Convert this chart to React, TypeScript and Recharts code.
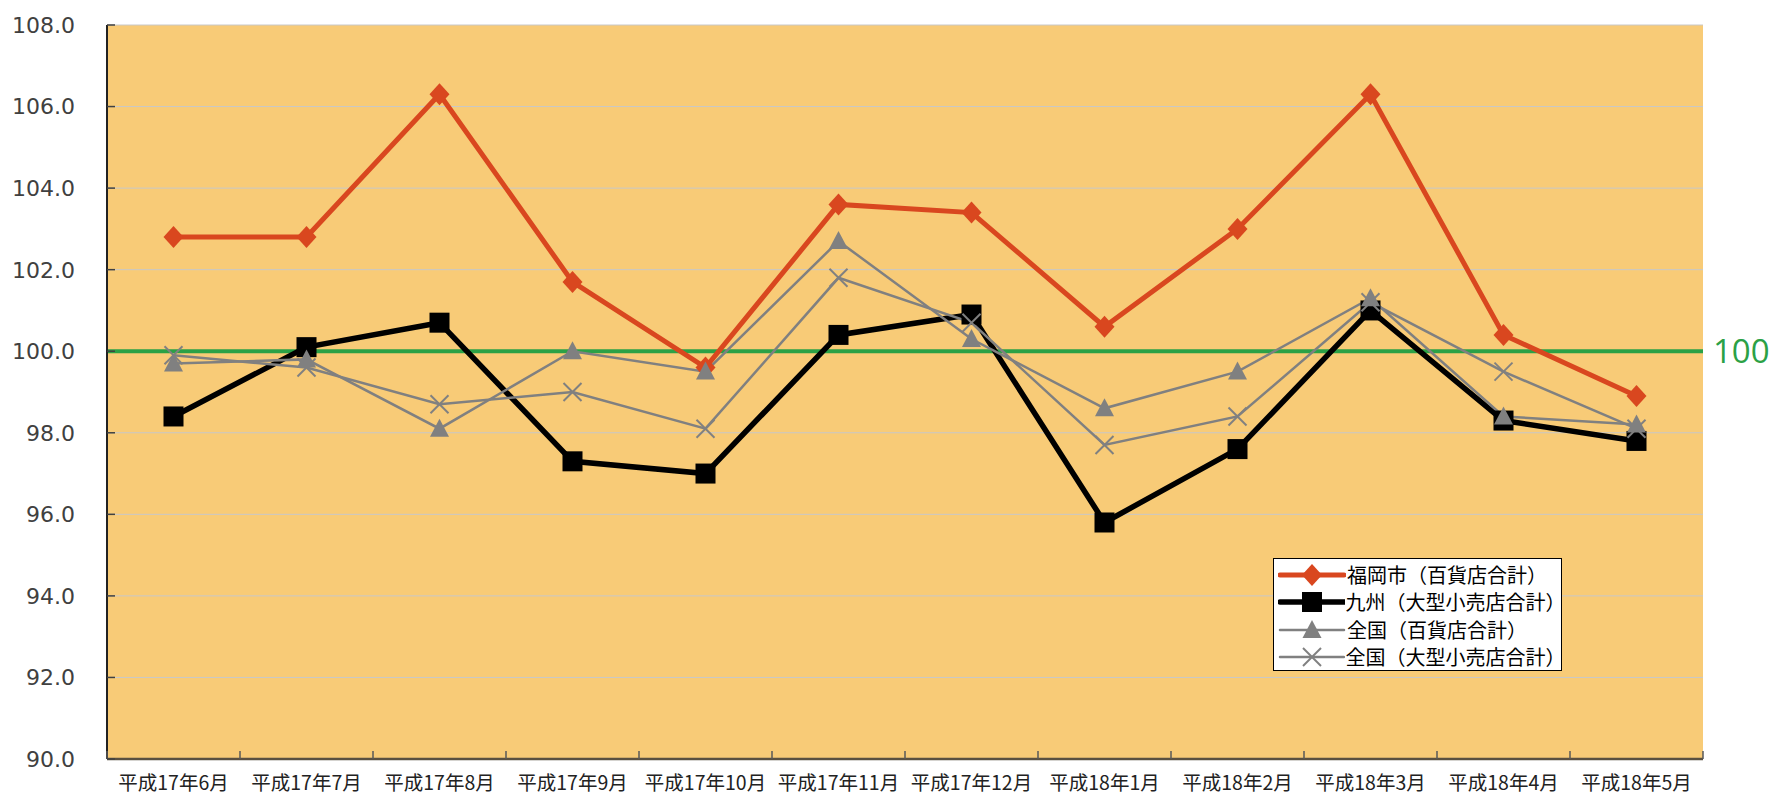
import React from 'react';
import { LineChart, Line, XAxis, YAxis, CartesianGrid, ReferenceLine } from 'recharts';

const categories = ['平成17年6月','平成17年7月','平成17年8月','平成17年9月','平成17年10月','平成17年11月','平成17年12月','平成18年1月','平成18年2月','平成18年3月','平成18年4月','平成18年5月'];
const fukuokaDept = [102.8,102.8,106.3,101.7,99.6,103.6,103.4,100.6,103.0,106.3,100.4,98.9];
const kyushuLarge = [98.4,100.1,100.7,97.3,97.0,100.4,100.9,95.8,97.6,101.0,98.3,97.8];
const nationalDept = [99.7,99.8,98.1,100.0,99.5,102.7,100.3,98.6,99.5,101.3,98.4,98.2];
const nationalLarge = [99.9,99.6,98.7,99.0,98.1,101.8,100.7,97.7,98.4,101.2,99.5,98.1];
const yTicks = [90,92,94,96,98,100,102,104,106,108];
const seriesNames = ['福岡市（百貨店合計）','九州（大型小売店合計）','全国（百貨店合計）','全国（大型小売店合計）'];

const data = categories.map((c, i) => ({
  name: c,
  s0: fukuokaDept[i],
  s1: kyushuLarge[i],
  s2: nationalDept[i],
  s3: nationalLarge[i],
}));

const RED = '#D9471F';
const GRAY = '#808080';
const GREEN = '#2BA146';

type Shape = 'diamond' | 'square' | 'triangle' | 'cross';

const marker = (shape: Shape, cx: number, cy: number, color: string, key?: string) => {
  if (shape === 'diamond') {
    return <path key={key} d={`M${cx},${cy - 11} L${cx + 10},${cy} L${cx},${cy + 11} L${cx - 10},${cy} Z`} fill={color} />;
  }
  if (shape === 'square') {
    return <rect key={key} x={cx - 10} y={cy - 10} width={20} height={20} fill={color} />;
  }
  if (shape === 'triangle') {
    return <path key={key} d={`M${cx},${cy - 10} L${cx + 9.5},${cy + 8} L${cx - 9.5},${cy + 8} Z`} fill={color} />;
  }
  return (
    <g key={key}>
      <line x1={cx - 9} y1={cy - 9} x2={cx + 9} y2={cy + 9} stroke={color} strokeWidth={2} />
      <line x1={cx - 9} y1={cy + 9} x2={cx + 9} y2={cy - 9} stroke={color} strokeWidth={2} />
    </g>
  );
};

const seriesStyle: { key: string; color: string; width: number; shape: Shape }[] = [
  { key: 's0', color: RED, width: 5, shape: 'diamond' },
  { key: 's1', color: '#000000', width: 5.5, shape: 'square' },
  { key: 's2', color: GRAY, width: 2.5, shape: 'triangle' },
  { key: 's3', color: GRAY, width: 2.5, shape: 'cross' },
];

const makeDot = (shape: Shape, color: string) => (props: any) => {
  const { cx, cy, index } = props;
  if (cx == null || cy == null) return <g key={`d${index}`} />;
  return marker(shape, cx, cy, color, `d${index}`);
};

const TICK_MARGIN = 14;

const XTick = (props: any) => {
  const { x, y, payload, width, index } = props;
  const band = width / categories.length;
  const axisY = y - TICK_MARGIN;
  return (
    <g>
      <line x1={x - band / 2} x2={x - band / 2} y1={axisY} y2={axisY - 8} stroke="#595959" strokeWidth={1.5} />
      {index === categories.length - 1 && (
        <line x1={x + band / 2} x2={x + band / 2} y1={axisY} y2={axisY - 8} stroke="#595959" strokeWidth={1.5} />
      )}
      <text x={x} y={y} dy="0.85em" textAnchor="middle" fontSize={19.5} fill="#222" fontFamily="'Noto Sans CJK JP', sans-serif">
        {payload.value}
      </text>
    </g>
  );
};

const YTick = (props: any) => {
  const { x, y, payload } = props;
  const axisX = x + 32;
  return (
    <g>
      <line x1={axisX} x2={axisX + 8} y1={y} y2={y} stroke="#404040" strokeWidth={1.5} />
      <text x={x} y={y} dy="0.36em" textAnchor="end" fontSize={22} fill="#404040" fontFamily="'DejaVu Sans', sans-serif">
        {Number(payload.value).toFixed(1)}
      </text>
    </g>
  );
};

const LegendBox = () => (
  <div style={{ position: 'absolute', left: 1273, top: 558, background: '#fff', border: '1.5px solid #000', width: 289, height: 113, boxSizing: 'border-box', padding: '2px 0 0 4px', fontFamily: "'Noto Sans CJK JP', sans-serif" }}>
    {seriesStyle.map((s, i) => (
      <div key={s.key} style={{ display: 'flex', alignItems: 'center', height: 27.5 }}>
        <svg width={68} height={26} style={{ display: 'block' }}>
          <line x1={2} x2={66} y1={13} y2={13} stroke={s.color} strokeWidth={s.width} strokeLinecap="round" />
          {marker(s.shape, 34, 13, s.color)}
        </svg>
        <span style={{ fontSize: 20, color: '#000', lineHeight: '26px', marginLeft: 1 }}>{seriesNames[i]}</span>
      </div>
    ))}
  </div>
);

export default function App() {
  return (
    <div style={{ position: 'absolute', left: 0, top: 0, width: 1773, height: 795, background: '#fff' }}>
      <LineChart width={1773} height={795} data={data} margin={{ top: 25, right: 70, left: 0, bottom: 0 }} style={{ overflow: 'visible' }}>
        <CartesianGrid vertical={false} stroke="#C8C8C8" strokeWidth={1} fill="#F8CB77" />
        <XAxis dataKey="name" scale="band" height={36} tickLine={false} tickSize={0} tickMargin={TICK_MARGIN} axisLine={{ stroke: '#5A5040', strokeWidth: 2.5 }} tick={<XTick />} interval={0} />
        <YAxis domain={[90, 108]} ticks={yTicks} width={107} tickLine={false} tickSize={0} tickMargin={32} axisLine={{ stroke: '#222', strokeWidth: 2 }} tick={<YTick />} interval={0} />
        <ReferenceLine y={100} stroke={GREEN} strokeWidth={4} label={{ value: '100', position: 'right', fill: GREEN, fontSize: 33, offset: 10, fontFamily: "'Open Sans', sans-serif" }} />
        {seriesStyle.map((s, i) => (
          <Line key={s.key} dataKey={s.key} name={seriesNames[i]} stroke={s.color} strokeWidth={s.width} dot={makeDot(s.shape, s.color)} activeDot={false} isAnimationActive={false} />
        ))}
      </LineChart>
      <LegendBox />
    </div>
  );
}
